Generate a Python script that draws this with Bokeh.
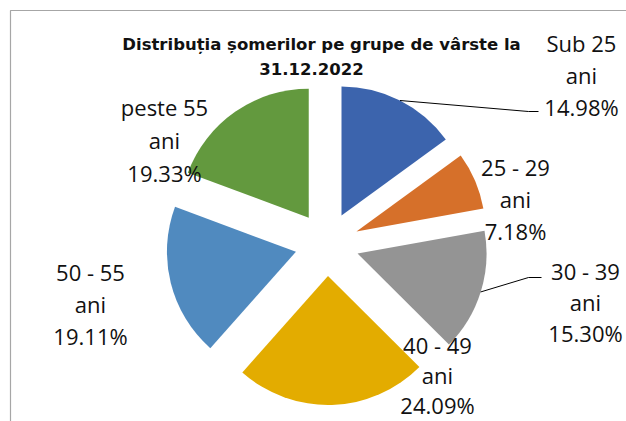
import math
from bokeh.plotting import figure
from bokeh.models import Range1d
from bokeh.core.properties import value
from bokeh.embed import file_html
from bokeh.resources import INLINE

# ---- data ----
groups = ["Sub 25", "25 - 29", "30 - 39", "40 - 49", "50 - 55", "peste 55"]
unit = "ani"
shares = [14.98, 7.18, 15.30, 24.09, 19.11, 19.33]
colors = ["#3C64AD", "#D6702A", "#949494", "#E3AC00", "#508ABF", "#63993E"]
title_lines = ["Distribuția șomerilor pe grupe de vârste la", "31.12.2022"]

# ---- layout (page pixels) ----
W, H = 626, 421


def px(x):
    return x


def py(y):
    return H - y


CX, CY = px(326.5), py(243.5)
R = 129
EXPLODE = 32
label_pos = [(581, 74), (515, 198), (585, 301), (437, 374), (90, 303), (164, 139)]
label_pitch = [32, 32, 31, 30, 32, 33]
leader_ends = {0: [(528, 111), (538, 111)], 2: [(528, 277), (541, 277)]}
title_pos = [(321, 44), (311, 68)]

p = figure(width=W, height=H, x_range=Range1d(0, W), y_range=Range1d(0, H),
           output_backend="svg", toolbar_location=None, min_border=0,
           x_axis_type=None, y_axis_type=None)
p.grid.visible = False
p.outline_line_color = None
p.background_fill_color = "white"
p.border_fill_color = "white"

# chart frame (left and top edges visible)
p.line([px(10), px(10), W], [0, py(10), py(10)], line_color="#A6A6A6", line_width=1.2)

total = sum(shares)
cum = 0.0
for i, (g, v, c) in enumerate(zip(groups, shares, colors)):
    ts = cum / total * 2 * math.pi
    cum += v
    te = cum / total * 2 * math.pi
    tm = (ts + te) / 2
    cx = CX + EXPLODE * math.sin(tm)
    cy = CY + EXPLODE * math.cos(tm)
    p.wedge(x=[cx], y=[cy], radius=R,
            start_angle=[math.pi / 2 - ts], end_angle=[math.pi / 2 - te],
            direction="clock", fill_color=c, line_color=None)
    if i in leader_ends:
        xs = [cx + R * math.sin(tm)] + [px(e[0]) for e in leader_ends[i]]
        ys = [cy + R * math.cos(tm)] + [py(e[1]) for e in leader_ends[i]]
        p.line(xs, ys, line_color="black", line_width=1)
    lx, ly = label_pos[i]
    lines = [g, unit, f"{v:.2f}%"]
    for k, t in enumerate(lines):
        p.text(x=[px(lx)], y=[py(ly) + (1 - k) * label_pitch[i]], text=[t],
               text_font=value("Open Sans"), text_font_size="22px",
               text_align="center", text_baseline="middle", text_color="#111111")

for (tx, ty), t in zip(title_pos, title_lines):
    p.text(x=[px(tx)], y=[py(ty)], text=[t], text_font=value("DejaVu Sans"),
           text_font_size="16.5px", text_font_style="bold",
           text_align="center", text_baseline="middle", text_color="#111111")

open("out.html", "w").write(file_html(p, INLINE))
